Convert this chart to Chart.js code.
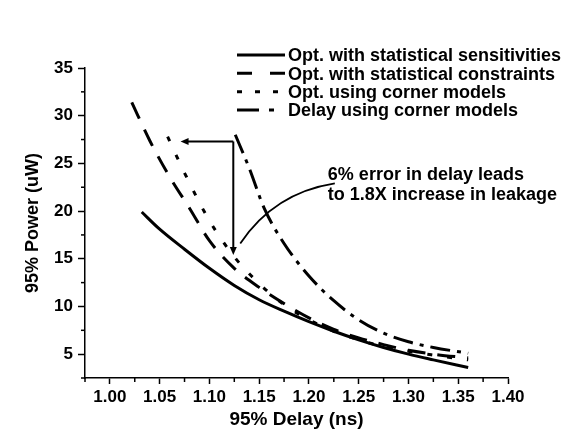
<!DOCTYPE html>
<html>
<head>
<meta charset="utf-8">
<script src="https://cdn.jsdelivr.net/npm/chart.js@4.4.0/dist/chart.umd.min.js"></script>
<style>
  html, body { margin: 0; padding: 0; background: #fff; }
</style>
</head>
<body>
<canvas id="powerChart" width="563" height="435"></canvas>
<script>
// series labels
const seriesLabels = [
    'Opt. with statistical sensitivities',
    'Opt. with statistical constraints',
    'Opt. using corner models',
    'Delay using corner models'
];

// Opt. with statistical sensitivities
const sensDelay = [1.032, 1.05, 1.075, 1.10, 1.125, 1.15, 1.175, 1.20, 1.225, 1.25, 1.275, 1.30, 1.325, 1.36];
const sensPower = [19.9, 18.1, 16.0, 14.0, 12.2, 10.7, 9.5, 8.4, 7.4, 6.5, 5.7, 5.0, 4.4, 3.6];

// Opt. with statistical constraints
const consDelay = [1.022, 1.04, 1.06, 1.08, 1.10, 1.125, 1.15, 1.175, 1.20, 1.225, 1.25, 1.275, 1.30, 1.325, 1.36];
const consPower = [31.4, 27.4, 23.6, 20.3, 16.9, 14.0, 12.0, 10.3, 8.8, 7.6, 6.7, 6.0, 5.4, 5.0, 4.6];

// Opt. using corner models
const cornDelay = [1.058, 1.075, 1.10, 1.125, 1.15, 1.175, 1.20, 1.225, 1.25, 1.275, 1.30, 1.325, 1.36];
const cornPower = [27.8, 24.0, 19.0, 15.2, 12.4, 10.2, 8.6, 7.4, 6.5, 5.8, 5.3, 4.9, 4.4];

// Delay using corner models
const delayDelay = [1.126, 1.14, 1.155, 1.175, 1.20, 1.225, 1.25, 1.275, 1.30, 1.325, 1.36];
const delayPower = [28.0, 24.5, 20.3, 16.6, 13.2, 10.6, 8.6, 7.2, 6.3, 5.7, 5.1];

// tick labels
const xTicks = [1.00, 1.05, 1.10, 1.15, 1.20, 1.25, 1.30, 1.35, 1.40];
const yTicks = [5, 10, 15, 20, 25, 30, 35];
const xMinorTicks = [0.975, 1.025, 1.075, 1.125, 1.175, 1.225, 1.275, 1.325, 1.375];
const yMinorTicks = [2.5, 7.5, 12.5, 17.5, 22.5, 27.5, 32.5];

// annotation text
const noteLines = ['6% error in delay leads', 'to 1.8X increase in leakage'];

const FONT = "'Liberation Sans', Arial, sans-serif";

function toPoints(xs, ys) {
    return xs.map((v, i) => ({ x: v, y: ys[i] }));
}

function arrowHead(ctx, x, y, angle) {
    ctx.save();
    ctx.translate(x, y);
    ctx.rotate(angle);
    ctx.beginPath();
    ctx.moveTo(0, 0);
    ctx.lineTo(-8, -3.5);
    ctx.lineTo(-8, 3.5);
    ctx.closePath();
    ctx.fill();
    ctx.restore();
}

// minor ticks, arrows, note and legend
const decorPlugin = {
    id: 'decor',
    afterDraw(chart) {
        const { ctx } = chart;
        const x = chart.scales.x, y = chart.scales.y;
        ctx.save();
        ctx.strokeStyle = '#000';
        ctx.fillStyle = '#000';
        ctx.lineWidth = 1.5;

        xMinorTicks.forEach(v => {
            const px = x.getPixelForValue(v);
            ctx.beginPath();
            ctx.moveTo(px, y.bottom);
            ctx.lineTo(px, y.bottom + 4);
            ctx.stroke();
        });
        yMinorTicks.forEach(v => {
            const py = y.getPixelForValue(v);
            ctx.beginPath();
            ctx.moveTo(x.left, py);
            ctx.lineTo(x.left - 4, py);
            ctx.stroke();
        });

        // arrows: horizontal and vertical from the corner
        const cx = x.getPixelForValue(1.124), cy = y.getPixelForValue(27.3);
        const lx = x.getPixelForValue(1.071);
        const by = y.getPixelForValue(15.4);
        ctx.lineWidth = 2;
        ctx.beginPath();
        ctx.moveTo(cx, cy);
        ctx.lineTo(lx + 4, cy);
        ctx.moveTo(cx, cy);
        ctx.lineTo(cx, by - 4);
        ctx.stroke();
        arrowHead(ctx, lx, cy, Math.PI);
        arrowHead(ctx, cx, by, Math.PI / 2);

        // curved connector to the note
        ctx.lineWidth = 1.8;
        ctx.beginPath();
        ctx.moveTo(x.getPixelForValue(1.131), y.getPixelForValue(16.6));
        ctx.quadraticCurveTo(x.getPixelForValue(1.165), y.getPixelForValue(21.9),
                             x.getPixelForValue(1.226), y.getPixelForValue(22.9));
        ctx.stroke();

        ctx.font = 'bold 18px ' + FONT;
        ctx.textAlign = 'left';
        ctx.textBaseline = 'middle';
        const nx = x.getPixelForValue(1.219);
        ctx.fillText(noteLines[0], nx, y.getPixelForValue(23.8));
        ctx.fillText(noteLines[1], nx, y.getPixelForValue(21.7));

        // legend
        const lx0 = 237, lx1 = 285, rowY = [55, 73.3, 91.7, 110];
        chart.data.datasets.forEach((ds, i) => {
            ctx.lineWidth = 3;
            ctx.setLineDash(ds.legendDash || []);
            ctx.beginPath();
            ctx.moveTo(lx0, rowY[i]);
            ctx.lineTo(lx1, rowY[i]);
            ctx.stroke();
            ctx.setLineDash([]);
            ctx.fillText(ds.label, 288, rowY[i] + 1.5);
        });
        ctx.restore();
    }
};

const ctxPower = document.getElementById('powerChart').getContext('2d');

const powerChart = new Chart(ctxPower, {
    type: 'line',
    data: {
        datasets: [{
            label: seriesLabels[0],
            data: toPoints(sensDelay, sensPower),
            borderDash: [],
            legendDash: []
        }, {
            label: seriesLabels[1],
            data: toPoints(consDelay, consPower),
            borderDash: [18, 12],
            legendDash: [15, 18]
        }, {
            label: seriesLabels[2],
            data: toPoints(cornDelay, cornPower),
            borderDash: [5, 15],
            legendDash: [5, 13]
        }, {
            label: seriesLabels[3],
            data: toPoints(delayDelay, delayPower),
            borderDash: [20, 7, 4, 7],
            legendDash: [22, 10, 5, 30]
        }]
    },
    options: {
        responsive: false,
        animation: false,
        layout: { padding: { left: 0, top: 68, right: 55, bottom: 0 } },
        elements: {
            line: { borderColor: '#000', borderWidth: 3, cubicInterpolationMode: 'monotone', fill: false },
            point: { radius: 0 }
        },
        plugins: {
            legend: { display: false },
            tooltip: { enabled: false }
        },
        scales: {
            x: {
                type: 'linear',
                min: 0.975,
                max: 1.40,
                afterFit: s => { s.height = 57; },
                afterBuildTicks: s => { s.ticks = xTicks.map(v => ({ value: v })); },
                grid: { drawOnChartArea: false, tickLength: 6, tickColor: '#000', tickWidth: 1.5 },
                border: { color: '#000', width: 1.5 },
                ticks: {
                    color: '#000',
                    padding: 3,
                    maxRotation: 0,
                    font: { family: FONT, size: 17, weight: 'bold' },
                    callback: v => v.toFixed(2)
                },
                title: {
                    display: true,
                    text: '95% Delay (ns)',
                    color: '#000',
                    padding: { top: 0, bottom: 4 },
                    font: { family: FONT, size: 19, weight: 'bold' }
                }
            },
            y: {
                type: 'linear',
                min: 2.5,
                max: 35,
                afterFit: s => { s.width = 85; },
                afterBuildTicks: s => { s.ticks = yTicks.map(v => ({ value: v })); },
                grid: { drawOnChartArea: false, tickLength: 7, tickColor: '#000', tickWidth: 1.5 },
                border: { color: '#000', width: 1.5 },
                ticks: {
                    color: '#000',
                    padding: 5,
                    font: { family: FONT, size: 17, weight: 'bold' }
                },
                title: {
                    display: true,
                    text: '95% Power (uW)',
                    color: '#000',
                    padding: { top: 22, bottom: 0 },
                    font: { family: FONT, size: 18, weight: 'bold' }
                }
            }
        }
    },
    plugins: [decorPlugin]
});
</script>
</body>
</html>
